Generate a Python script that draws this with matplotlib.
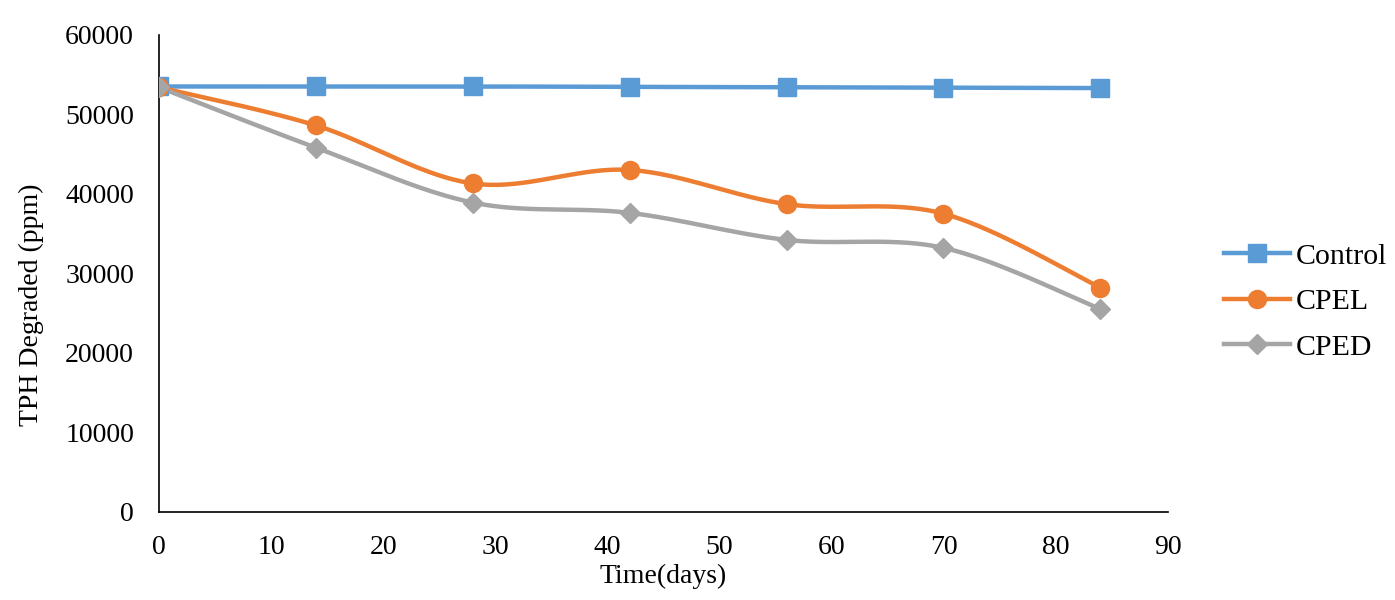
import numpy as np
import matplotlib.pyplot as plt

plt.rcParams['font.family'] = ['Liberation Serif', 'DejaVu Serif']

# Data
days = [0, 14, 28, 42, 56, 70, 84]
control = [53500, 53500, 53500, 53450, 53400, 53350, 53300]
cpel = [53400, 48600, 41300, 43000, 38700, 37500, 28200]
cped = [53400, 45800, 38900, 37600, 34200, 33200, 25500]

series = [
    ('Control', control, '#5B9BD5', 's', 12.5),
    ('CPEL', cpel, '#ED7D31', 'o', 13),
    ('CPED', cped, '#A5A5A5', 'D', 10),
]


# Excel-like smoothed line (Catmull-Rom as cubic Bezier)
def smooth(x, y, n=40):
    x = np.asarray(x, float)
    y = np.asarray(y, float)
    px = np.concatenate([[x[0]], x, [x[-1]]])
    py = np.concatenate([[y[0]], y, [y[-1]]])
    xs, ys = [], []
    t = np.linspace(0, 1, n)
    for i in range(1, len(px) - 2):
        p0 = np.array([px[i], py[i]])
        p3 = np.array([px[i + 1], py[i + 1]])
        p1 = p0 + (np.array([px[i + 1], py[i + 1]]) - np.array([px[i - 1], py[i - 1]])) / 6
        p2 = p3 - (np.array([px[i + 2], py[i + 2]]) - np.array([px[i], py[i]])) / 6
        pts = ((1 - t) ** 3)[:, None] * p0 + (3 * (1 - t) ** 2 * t)[:, None] * p1 \
            + (3 * (1 - t) * t ** 2)[:, None] * p2 + (t ** 3)[:, None] * p3
        xs.extend(pts[:, 0])
        ys.extend(pts[:, 1])
    return xs, ys


fig = plt.figure(figsize=(13.95, 6), dpi=100)
ax = fig.add_axes([0.114, 0.147, 0.723, 0.795])

for name, vals, color, marker, ms in series:
    sx, sy = smooth(days, vals)
    ax.plot(sx, sy, color=color, lw=3.2, solid_capstyle='round', zorder=2)
    ax.plot(days, vals, linestyle='none', marker=marker, color=color,
            markersize=ms, zorder=3)
    ax.plot([], [], color=color, lw=3.2, marker=marker, markersize=ms, label=name)

ax.set_xlim(0, 90)
ax.set_ylim(0, 60000)
ax.set_xticks(range(0, 91, 10))
ax.set_yticks(range(0, 60001, 10000))
ax.tick_params(length=0, labelsize=20)
ax.tick_params(axis='y', pad=18)
ax.tick_params(axis='x', pad=17)
for s in ['top', 'right']:
    ax.spines[s].set_visible(False)
for s in ['left', 'bottom']:
    ax.spines[s].set_color('black')
    ax.spines[s].set_linewidth(1.2)

ax.set_xlabel('Time(days)', fontsize=20)
ax.xaxis.set_label_coords(0.5, -0.11)
ax.set_ylabel('TPH Degraded (ppm)', fontsize=20)
ax.yaxis.set_label_coords(-0.114, 0.434)

fig.legend(loc='center left', bbox_to_anchor=(0.8585, 0.497), frameon=False,
           fontsize=21.5, handlelength=2.2, labelspacing=0.62, handletextpad=0.2)

fig.savefig('out.png', dpi=100)
